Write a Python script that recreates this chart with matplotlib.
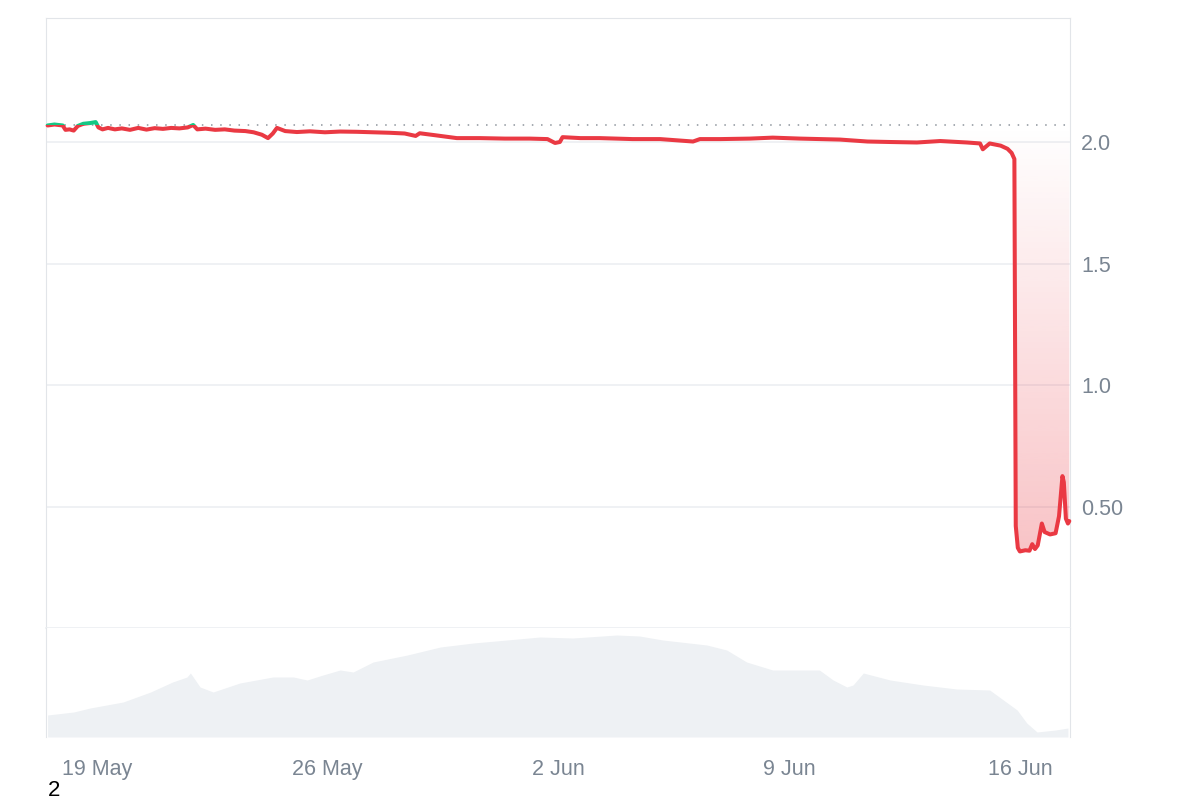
import numpy as np
import pandas as pd
import matplotlib
matplotlib.use("Agg")
import matplotlib.pyplot as plt
import matplotlib.dates as mdates
from matplotlib.patches import Rectangle
from matplotlib.path import Path

plt.rcParams["font.family"] = ["Liberation Sans", "DejaVu Sans"]

# ── price ──
price_times = [
    "05-17 12:00", "05-17 17:00", "05-17 23:00", "05-18 01:00", "05-18 04:00",
    "05-18 07:00", "05-18 10:00", "05-18 14:00", "05-18 19:00", "05-18 23:00",
    "05-19 01:00", "05-19 04:00", "05-19 08:00", "05-19 13:00", "05-19 18:00",
    "05-20 00:00", "05-20 06:00", "05-20 12:00", "05-20 18:00", "05-21 00:00",
    "05-21 06:00", "05-21 12:00", "05-21 18:00", "05-21 22:00", "05-22 01:00",
    "05-22 07:00", "05-22 14:00", "05-22 21:00", "05-23 04:00", "05-23 12:00",
    "05-23 18:00", "05-24 00:00", "05-24 04:30", "05-24 08:00", "05-24 11:00",
    "05-24 17:00", "05-25 01:30", "05-25 11:00", "05-25 22:00", "05-26 09:00",
    "05-26 21:00", "05-27 09:00", "05-27 21:00", "05-28 08:00", "05-28 16:00",
    "05-28 19:00", "05-29 06:00", "05-29 22:00", "05-30 15:00", "05-31 09:00",
    "06-01 03:00", "06-01 16:00", "06-01 21:30", "06-02 01:00", "06-02 03:00",
    "06-02 16:00", "06-03 06:00", "06-04 06:00", "06-05 02:00", "06-06 02:00",
    "06-06 07:00", "06-06 22:00", "06-07 19:30", "06-08 12:00", "06-09 08:00",
    "06-10 13:00", "06-11 09:00", "06-12 01:30", "06-12 21:00", "06-13 14:00",
    "06-14 09:30", "06-14 19:00", "06-14 21:00", "06-15 02:00", "06-15 10:00",
    "06-15 15:00", "06-15 18:00", "06-15 20:00", "06-15 21:00", "06-15 22:30",
    "06-16 00:00", "06-16 04:00", "06-16 07:00", "06-16 09:00", "06-16 11:00",
    "06-16 13:00", "06-16 16:00", "06-16 18:00", "06-16 22:00", "06-17 02:00",
    "06-17 04:30", "06-17 07:00", "06-17 08:00", "06-17 09:30", "06-17 11:00",
    "06-17 12:00",
]
price = [
    2.068, 2.072, 2.068, 2.050, 2.052, 2.047, 2.066, 2.075, 2.078, 2.082,
    2.060, 2.052, 2.058, 2.052, 2.056, 2.050, 2.058, 2.051, 2.057, 2.054,
    2.058, 2.056, 2.060, 2.070, 2.052, 2.055, 2.050, 2.052, 2.047, 2.045,
    2.040, 2.030, 2.016, 2.035, 2.058, 2.045, 2.041, 2.044, 2.040, 2.043,
    2.042, 2.040, 2.038, 2.035, 2.025, 2.036, 2.028, 2.016, 2.016, 2.014,
    2.014, 2.012, 1.996, 2.000, 2.020, 2.016, 2.016, 2.012, 2.012, 2.002,
    2.012, 2.012, 2.014, 2.018, 2.014, 2.010, 2.002, 2.000, 1.998, 2.004,
    1.998, 1.994, 1.970, 1.994, 1.985, 1.972, 1.955, 1.930, 0.420, 0.330,
    0.315, 0.320, 0.318, 0.345, 0.325, 0.340, 0.430, 0.395, 0.385, 0.390,
    0.460, 0.625, 0.600, 0.450, 0.430, 0.440,
]

# ── volume strip (arbitrary units) ──
vol_times = [
    "05-17 12:00", "05-18 07:00", "05-18 19:00", "05-19 19:00", "05-20 15:00",
    "05-21 07:00", "05-21 17:30", "05-21 20:00", "05-22 03:00", "05-22 12:30",
    "05-23 08:00", "05-24 08:00", "05-24 23:00", "05-25 09:00", "05-25 20:30",
    "05-26 09:00", "05-26 18:30", "05-27 09:00", "05-28 10:00", "05-29 10:00",
    "05-30 10:00", "05-31 10:30", "06-01 10:30", "06-02 10:30", "06-03 18:30",
    "06-04 11:00", "06-05 04:00", "06-06 12:00", "06-07 02:30", "06-07 17:00",
    "06-08 12:00", "06-09 22:00", "06-10 08:00", "06-10 18:00", "06-10 22:30",
    "06-11 06:00", "06-12 01:30", "06-13 01:30", "06-14 02:00", "06-15 02:00",
    "06-15 15:00", "06-15 22:00", "06-16 05:00", "06-16 12:30", "06-17 02:00",
    "06-17 11:00",
]
volume = [
    11.0, 12.5, 14.5, 17.5, 22.5, 27.5, 30.0, 32.0, 25.0, 22.5,
    27.0, 30.0, 30.0, 28.5, 31.0, 33.5, 32.5, 37.5, 41.0, 45.0,
    47.0, 48.5, 50.0, 49.5, 51.0, 50.5, 48.5, 46.0, 43.5, 37.5,
    33.5, 33.5, 28.5, 25.0, 26.0, 32.0, 28.5, 26.0, 24.0, 23.5,
    17.0, 13.5, 7.0, 2.5, 3.5, 4.5,
]

tick_dates = ["05-19", "05-26", "06-02", "06-09", "06-16"]
ytick_vals = [0.5, 1.0, 1.5, 2.0]
ytick_labels = ["0.50", "1.0", "1.5", "2.0"]

YEAR = "2024-"
RED = "#ea3943"
GREEN = "#16c784"
GRID = "#eceff2"
FRAME = "#e2e5e9"
TXT = "#7a8592"

pt = pd.to_datetime([YEAR + s for s in price_times])
vt = pd.to_datetime([YEAR + s for s in vol_times])
price = np.array(price)
base = price[0]
xn = mdates.date2num(pt)

fig = plt.figure(figsize=(12, 8), dpi=100, facecolor="white")
ax = fig.add_axes([46 / 1200, 1 - 628 / 800, 1024 / 1200, 610 / 800])
axv = fig.add_axes([46 / 1200, 1 - 737 / 800, 1024 / 1200, 109 / 800])

# baseline + price line, green above the opening price, red below
ax.axhline(base, color="#8d949c", lw=1.1, ls=(0, (1, 5)), zorder=2)
for c, lo, hi in [(RED, -5, base), (GREEN, base, 10)]:
    ln, = ax.plot(pt, price, color=c, lw=2.9, solid_joinstyle="round",
                  solid_capstyle="round", zorder=4)
    ln.set_clip_path(Rectangle((xn[0] - 5, lo), xn[-1] - xn[0] + 10, hi - lo,
                               transform=ax.transData))

# gradient fill between line and baseline
verts = np.column_stack([np.r_[xn, xn[::-1]],
                         np.r_[price, np.full_like(price, base)]])
fill_path = Path(verts)
lo = price.min()
grad = np.zeros((256, 1, 4))
grad[:, 0, :3] = matplotlib.colors.to_rgb(RED)
grad[:, 0, 3] = 0.30 * (1 - np.linspace(0, 1, 256))
im = ax.imshow(grad, extent=[xn[0], xn[-1], lo, base], aspect="auto",
               origin="lower", interpolation="bilinear", zorder=1)
im.set_clip_path(fill_path, transform=ax.transData)
ggrad = np.zeros((64, 1, 4))
ggrad[:, 0, :3] = matplotlib.colors.to_rgb(GREEN)
ggrad[:, 0, 3] = 0.15 * np.linspace(0, 1, 64)
im2 = ax.imshow(ggrad, extent=[xn[0], xn[-1], base, price.max()],
                aspect="auto", origin="lower", zorder=1)
im2.set_clip_path(fill_path, transform=ax.transData)

xlim = (pd.Timestamp(YEAR + "05-17 10:50"), pd.Timestamp(YEAR + "06-17 12:30"))
ax.set_xlim(xlim)
ax.set_ylim(0, 2.5103)
ax.set_yticks(ytick_vals)
ax.set_yticklabels(ytick_labels)
ax.yaxis.tick_right()
ax.grid(axis="y", color=GRID, lw=1.2)
ax.set_axisbelow(True)
ax.tick_params(axis="y", length=0, pad=8, labelsize=15.5, colors=TXT)
ax.tick_params(axis="x", bottom=False, labelbottom=False)
for side in ["top", "left", "right"]:
    ax.spines[side].set_color(FRAME)
ax.spines["bottom"].set_color(GRID)
ax.spines["bottom"].set_linewidth(1.2)

# volume strip
axv.fill_between(vt, volume, 0, color="#eef1f4", lw=0)
axv.set_xlim(xlim)
axv.set_ylim(0, 54.5)
axv.set_yticks([])
axv.set_xticks(pd.to_datetime([YEAR + d for d in tick_dates]))
axv.xaxis.set_major_formatter(
    plt.FuncFormatter(lambda v, _: f"{mdates.num2date(v).day} {mdates.num2date(v):%b}"))
axv.tick_params(axis="x", length=0, pad=16, labelsize=15.5, colors=TXT)
axv.spines["top"].set_visible(False)
axv.spines["bottom"].set_visible(False)
axv.spines["left"].set_color(FRAME)
axv.spines["right"].set_color(FRAME)

fig.text(48 / 1200, 1 - 791 / 800, "2", fontsize=16, color="black",
         ha="left", va="center")

fig.savefig("out.png", dpi=100, facecolor="white")
